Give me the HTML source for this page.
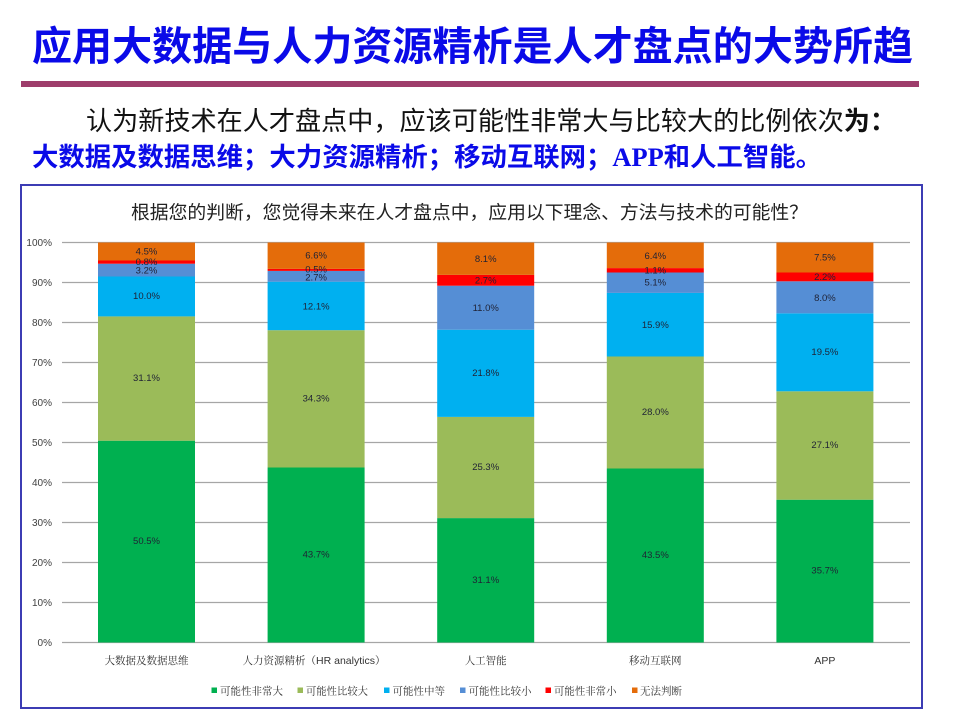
<!DOCTYPE html>
<html>
<head>
<meta charset="utf-8">
<style>
html,body{margin:0;padding:0;background:#fff;}
svg{display:block;}
</style>
</head>
<body>
<svg width="960" height="720" viewBox="0 0 960 720" xmlns="http://www.w3.org/2000/svg">
<rect x="0" y="0" width="960" height="720" fill="#ffffff"/>

<!-- Main title -->
<text x="32" y="60" font-family="'Liberation Sans','Noto Sans CJK SC',sans-serif" font-size="40" font-weight="bold" fill="#0a0ae8" textLength="881" lengthAdjust="spacingAndGlyphs">应用大数据与人力资源精析是人才盘点的大势所趋</text>
<rect x="21" y="81" width="898" height="6" fill="#9e3d6b"/>

<!-- Subtitle -->
<text x="86" y="130" font-family="'Liberation Sans','Noto Sans CJK SC',sans-serif" font-size="26" fill="#111" textLength="810" lengthAdjust="spacingAndGlyphs">认为新技术在人才盘点中，应该可能性非常大与比较大的比例依次<tspan font-weight="bold">为：</tspan></text>
<text x="32" y="166" font-family="'Liberation Sans','Noto Sans CJK SC',sans-serif" font-size="26" font-weight="bold" fill="#0a0ae8" textLength="790" lengthAdjust="spacingAndGlyphs">大数据及数据思维；大力资源精析；移动互联网；<tspan font-family="'Liberation Serif',serif">APP</tspan>和人工智能。</text>

<!-- Chart border -->
<rect x="21" y="185" width="901" height="523" fill="#fff" stroke="#3c3cb4" stroke-width="2"/>

<!-- Chart title -->
<text x="131" y="219" font-family="'Liberation Sans','Noto Sans CJK SC',sans-serif" font-size="18.5" fill="#222" textLength="677" lengthAdjust="spacingAndGlyphs">根据您的判断，您觉得未来在人才盘点中，应用以下理念、方法与技术的可能性？</text>

<!-- Gridlines -->
<g stroke="#a6a6a6" stroke-width="1.3">
<line x1="62" y1="242.5" x2="910" y2="242.5"/>
<line x1="62" y1="282.5" x2="910" y2="282.5"/>
<line x1="62" y1="322.5" x2="910" y2="322.5"/>
<line x1="62" y1="362.5" x2="910" y2="362.5"/>
<line x1="62" y1="402.5" x2="910" y2="402.5"/>
<line x1="62" y1="442.5" x2="910" y2="442.5"/>
<line x1="62" y1="482.5" x2="910" y2="482.5"/>
<line x1="62" y1="522.5" x2="910" y2="522.5"/>
<line x1="62" y1="562.5" x2="910" y2="562.5"/>
<line x1="62" y1="602.5" x2="910" y2="602.5"/>
<line x1="62" y1="642.5" x2="910" y2="642.5"/>
</g>

<!-- Y labels -->
<g font-family="'Liberation Sans',sans-serif" font-size="10" fill="#404040" text-anchor="end">
<text x="52" y="246">100%</text>
<text x="52" y="286">90%</text>
<text x="52" y="326">80%</text>
<text x="52" y="366">70%</text>
<text x="52" y="406">60%</text>
<text x="52" y="446">50%</text>
<text x="52" y="486">40%</text>
<text x="52" y="526">30%</text>
<text x="52" y="566">20%</text>
<text x="52" y="606">10%</text>
<text x="52" y="646">0%</text>
</g>

<!-- Bars -->
<!-- Bar 1 -->
<rect x="98" y="440.7" width="97" height="201.8" fill="#00b050"/>
<rect x="98" y="316.4" width="97" height="124.3" fill="#9bbb59"/>
<rect x="98" y="276.5" width="97" height="39.9" fill="#00b0f0"/>
<rect x="98" y="263.7" width="97" height="12.8" fill="#558ed5"/>
<rect x="98" y="260.5" width="97" height="3.2" fill="#ff0000"/>
<rect x="98" y="242.5" width="97" height="18" fill="#e46c0a"/>
<!-- Bar 2 -->
<rect x="267.6" y="467.5" width="97" height="175" fill="#00b050"/>
<rect x="267.6" y="330.2" width="97" height="137.3" fill="#9bbb59"/>
<rect x="267.6" y="281.7" width="97" height="48.5" fill="#00b0f0"/>
<rect x="267.6" y="270.9" width="97" height="10.8" fill="#558ed5"/>
<rect x="267.6" y="268.9" width="97" height="2" fill="#ff0000"/>
<rect x="267.6" y="242.5" width="97" height="26.4" fill="#e46c0a"/>
<!-- Bar 3 -->
<rect x="437.2" y="518.1" width="97" height="124.4" fill="#00b050"/>
<rect x="437.2" y="416.9" width="97" height="101.2" fill="#9bbb59"/>
<rect x="437.2" y="329.7" width="97" height="87.2" fill="#00b0f0"/>
<rect x="437.2" y="285.7" width="97" height="44" fill="#558ed5"/>
<rect x="437.2" y="274.9" width="97" height="10.8" fill="#ff0000"/>
<rect x="437.2" y="242.5" width="97" height="32.4" fill="#e46c0a"/>
<!-- Bar 4 -->
<rect x="606.8" y="468.5" width="97" height="174" fill="#00b050"/>
<rect x="606.8" y="356.5" width="97" height="112" fill="#9bbb59"/>
<rect x="606.8" y="292.9" width="97" height="63.6" fill="#00b0f0"/>
<rect x="606.8" y="272.5" width="97" height="20.4" fill="#558ed5"/>
<rect x="606.8" y="268.1" width="97" height="4.4" fill="#ff0000"/>
<rect x="606.8" y="242.5" width="97" height="25.6" fill="#e46c0a"/>
<!-- Bar 5 -->
<rect x="776.4" y="499.7" width="97" height="142.8" fill="#00b050"/>
<rect x="776.4" y="391.3" width="97" height="108.4" fill="#9bbb59"/>
<rect x="776.4" y="313.3" width="97" height="78" fill="#00b0f0"/>
<rect x="776.4" y="281.3" width="97" height="32" fill="#558ed5"/>
<rect x="776.4" y="272.5" width="97" height="8.8" fill="#ff0000"/>
<rect x="776.4" y="242.5" width="97" height="30" fill="#e46c0a"/>

<!-- Data labels -->
<g font-family="'Liberation Sans',sans-serif" font-size="9.5" fill="#1f2235" text-anchor="middle" dominant-baseline="central">
<text x="146.5" y="541.6">50.5%</text>
<text x="146.5" y="378.5">31.1%</text>
<text x="146.5" y="296.4">10.0%</text>
<text x="146.5" y="271">3.2%</text>
<text x="146.5" y="262.3">0.8%</text>
<text x="146.5" y="252">4.5%</text>

<text x="316.1" y="555">43.7%</text>
<text x="316.1" y="398.9">34.3%</text>
<text x="316.1" y="307">12.1%</text>
<text x="316.1" y="278">2.7%</text>
<text x="316.1" y="270">0.5%</text>
<text x="316.1" y="256">6.6%</text>

<text x="485.7" y="580.3">31.1%</text>
<text x="485.7" y="467.5">25.3%</text>
<text x="485.7" y="373.3">21.8%</text>
<text x="485.7" y="308.5">11.0%</text>
<text x="485.7" y="281">2.7%</text>
<text x="485.7" y="259.5">8.1%</text>

<text x="655.3" y="555.5">43.5%</text>
<text x="655.3" y="412.5">28.0%</text>
<text x="655.3" y="325.5">15.9%</text>
<text x="655.3" y="283">5.1%</text>
<text x="655.3" y="271">1.1%</text>
<text x="655.3" y="256.5">6.4%</text>

<text x="824.9" y="571.1">35.7%</text>
<text x="824.9" y="445.5">27.1%</text>
<text x="824.9" y="352.3">19.5%</text>
<text x="824.9" y="298.5">8.0%</text>
<text x="824.9" y="277.5">2.2%</text>
<text x="824.9" y="258">7.5%</text>
</g>

<!-- Category labels -->
<g font-family="'Liberation Sans','Noto Serif CJK SC',serif" font-size="10.5" fill="#333" text-anchor="middle">
<text x="146.5" y="664">大数据及数据思维</text>
<text x="314" y="664">人力资源精析（HR analytics）</text>
<text x="485.7" y="664">人工智能</text>
<text x="655.3" y="664">移动互联网</text>
<text x="824.9" y="664">APP</text>
</g>

<!-- Legend -->
<rect x="211.5" y="687.5" width="5.5" height="5.5" fill="#00b050"/>
<rect x="297.5" y="687.5" width="5.5" height="5.5" fill="#9bbb59"/>
<rect x="384" y="687.5" width="5.5" height="5.5" fill="#00b0f0"/>
<rect x="460" y="687.5" width="5.5" height="5.5" fill="#558ed5"/>
<rect x="545.5" y="687.5" width="5.5" height="5.5" fill="#ff0000"/>
<rect x="632" y="687.5" width="5.5" height="5.5" fill="#e46c0a"/>
<g font-family="'Liberation Sans','Noto Serif CJK SC',serif" font-size="10.5" fill="#333">
<text x="220" y="694.5" textLength="63" lengthAdjust="spacingAndGlyphs">可能性非常大</text>
<text x="306" y="694.5" textLength="62" lengthAdjust="spacingAndGlyphs">可能性比较大</text>
<text x="392.5" y="694.5" textLength="52.5" lengthAdjust="spacingAndGlyphs">可能性中等</text>
<text x="468.5" y="694.5" textLength="63" lengthAdjust="spacingAndGlyphs">可能性比较小</text>
<text x="554" y="694.5" textLength="62.5" lengthAdjust="spacingAndGlyphs">可能性非常小</text>
<text x="640" y="694.5" textLength="42" lengthAdjust="spacingAndGlyphs">无法判断</text>
</g>
</svg>
</body>
</html>
